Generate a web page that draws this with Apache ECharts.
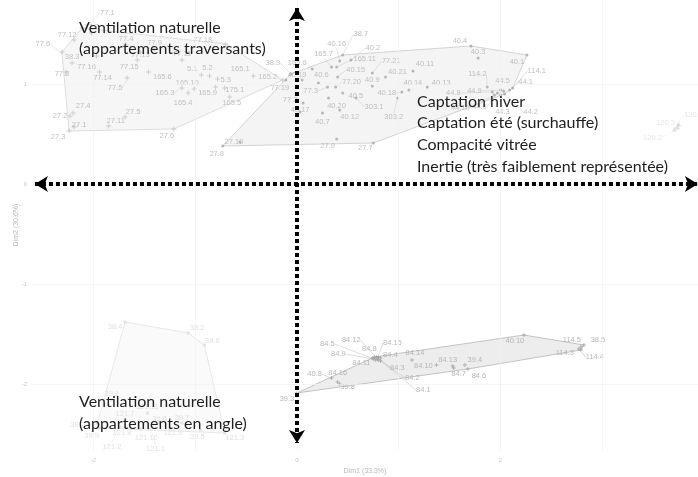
<!DOCTYPE html>
<html><head><meta charset="utf-8">
<script src="https://cdn.jsdelivr.net/npm/echarts@6/dist/echarts.min.js"></script>
<style>html,body{margin:0;padding:0;background:#fff}#c{width:698px;height:477px}</style>
</head><body><div id="c"></div>
<script>
// ---- axes ----
const xTicks = [-2, 0, 2];
const yTicks = [-2, -1, 0, 1];
const xGridLines = [-2, -1, 0, 1, 2, 3];
const yGridLines = [-2, -1, 0, 1];
const xTitle = 'Dim1 (33.3%)';
const yTitle = 'Dim2 (30.6%)';

// ---- individuals: [Dim1, Dim2, label] ----
const clusterTraversants = [
  [-2.11,1.56,'77.1'],[-2.19,1.44,'77.12'],[-2.31,1.32,'77.6'],[-2.02,1.51,'77.7'],
  [-1.68,1.39,'77.4'],[-1.40,1.35,'77.9'],[-0.70,1.40,'77.18'],[-1.13,1.24,'77.11'],
  [-1.54,1.32,'77.13'],[-1.57,1.24,'77.15'],[-2.21,1.21,'38.3'],[-1.97,1.28,'77.16'],
  [-2.27,1.12,'77.8'],[-1.94,1.12,'77.14'],[-1.67,1.06,'77.5'],[-1.46,1.12,'165.6'],
  [-0.94,1.09,'5.1'],[-0.86,1.08,'5.2'],[-0.78,1.05,'5.3'],[-1.01,0.95,'165.10'],
  [-1.13,0.96,'165.3'],[-0.80,0.97,'165.9'],[-0.71,0.96,'175.1'],[-1.07,0.91,'165.4'],
  [-0.66,0.87,'165.5'],[-0.43,1.08,'165.1'],[-0.14,1.04,'165.2'],[-2.20,0.71,'27.4'],
  [-2.23,0.68,'27.2'],[-1.69,0.67,'27.5'],[-1.85,0.58,'27.11'],[-2.19,0.57,'27.1'],
  [-2.24,0.53,'27.3'],[-1.21,0.55,'27.6']
];
const clusterCaptation = [
  [0.45,1.29,'38.7'],[0.42,1.23,'40.16'],[0.53,1.24,'40.2'],[0.34,1.17,'165.7'],
  [0.39,1.17,'165.11'],[0.15,1.15,'165.8'],[0.74,1.11,'77.21'],[1.14,1.13,'40.11'],
  [0.40,1.07,'40.15'],[0.87,1.07,'40.21'],[0.05,1.04,'40.19'],[0.21,1.01,'40.6'],
  [0.38,0.97,'77.20'],[0.74,0.98,'40.9'],[1.10,0.94,'40.14'],[1.28,0.97,'40.13'],
  [-0.11,1.04,'77.19'],[-0.06,1.10,'38.9'],[0.30,0.97,'77.3'],[0.45,0.91,'40.5'],
  [1.03,0.92,'40.18'],[0.06,0.81,'77.2'],[0.31,0.86,'40.20'],[0.58,0.86,'303.1'],
  [0.03,0.72,'40.17'],[0.42,0.74,'40.12'],[0.99,0.86,'303.2'],[0.25,0.71,'40.7'],
  [0.39,0.45,'27.9'],[0.75,0.41,'27.7'],[-0.56,0.42,'27.10'],[-0.73,0.38,'27.8'],
  [1.71,1.38,'40.4'],[1.78,1.26,'40.3'],[2.26,1.29,'40.1'],[2.12,0.96,'114.1'],
  [1.87,0.97,'114.2'],[2.09,0.94,'44.1'],[2.03,0.93,'44.5'],[2.00,0.94,'44.9'],
  [1.92,0.92,'44.8'],[1.97,0.91,'44.6'],[1.94,0.89,'44.10'],[2.00,0.89,'44.3'],
  [2.04,0.90,'44.2']
];
const clusterIsolated = [
  [3.75,0.60,'120.1'],[3.71,0.55,'120.2'],[3.74,0.57,'120.3']
];
const clusterLower = [
  [0.00,-2.09,'39.3'],[0.34,-1.94,'40.8'],[0.40,-1.98,'84.16'],[0.42,-2.00,'39.8'],
  [0.74,-1.74,'84.5'],[0.76,-1.73,'84.12'],[0.78,-1.73,'84.8'],[0.75,-1.75,'84.9'],
  [0.80,-1.73,'84.15'],[0.82,-1.74,'84.4'],[0.77,-1.76,'84.11'],[0.80,-1.76,'84.3'],
  [0.82,-1.77,'84.2'],[0.79,-1.75,'84.1'],[1.13,-1.76,'84.14'],[1.37,-1.81,'84.10'],
  [1.53,-1.82,'84.13'],[1.54,-1.84,'84.7'],[1.65,-1.81,'39.4'],[1.68,-1.85,'84.6'],
  [2.23,-1.51,'40.10'],[2.79,-1.63,'114.5'],[2.82,-1.61,'38.5'],[2.77,-1.65,'114.3'],
  [2.79,-1.66,'114.4']
];
const clusterAngle = [
  [-1.69,-1.38,'38.4'],[-1.07,-1.49,'38.2'],[-0.91,-1.61,'38.8'],[-1.82,-2.16,'39.1'],
  [-1.69,-2.36,'121.7'],[-1.47,-2.29,'121.11'],[-1.96,-2.39,'39.2'],[-1.94,-2.44,'39.9'],
  [-1.69,-2.43,'121.8'],[-1.54,-2.45,'121.10'],[-1.25,-2.44,'121.9'],[-0.95,-2.46,'39.5'],
  [-1.35,-2.39,'39.6'],[-1.13,-2.39,'39.7'],[-0.71,-2.49,'121.3'],[-1.74,-2.43,'121.2'],
  [-1.45,-2.45,'121.1']
];

// ---- annotations ----
const noteTopLeft = ['Ventilation naturelle', '(appartements traversants)'];
const noteRight = ['Captation hiver', 'Captation été (surchauffe)', 'Compacité vitrée', 'Inertie (très faiblement représentée)'];
const noteBottomLeft = ['Ventilation naturelle', '(appartements en angle)'];
const arrowV = [[0, 1.76], [0, -2.59]];
const arrowH = [[-2.575, 0], [3.94, 0]];

// ---- label placement (pixel offsets of the repelled labels, style only) ----
const labelNudge = {
  '77.1':[25,-15],'77.12':[-7,-5],'77.6':[-19,-8],'77.18':[-23,-4],'77.13':[0,3],'77.15':[-8,7],
  '77.16':[-10,11],'77.8':[-4,2],'77.14':[3,6],'77.5':[-12,10],'165.6':[14,5],'5.1':[-9,-6],
  '5.2':[-2,-8],'5.3':[8,1],'165.10':[-7,-6],'165.3':[-17,5],'165.9':[-8,6],'175.1':[10,2],
  '165.4':[-5,10],'165.5':[2,6],'165.1':[-13,-7],'165.2':[-15,-3],'27.4':[10,-7],'27.2':[-10,0],
  '27.5':[8,-5],'27.11':[7,-5],'27.1':[5,-2],'27.3':[-11,6],'27.6':[-7,7],
  '38.7':[18,-21],'40.16':[-3,-17],'40.2':[22,-12],'165.7':[-8,-13],'165.11':[28,-8],'165.8':[-15,-6],
  '77.21':[19,-12],'40.11':[12,-7],'40.15':[18,-7],'40.21':[12,-5],'40.19':[-5,-5],'40.6':[3,-8],
  '77.20':[16,-5],'40.14':[4,-7],'40.13':[14,-4],'77.19':[-6,8],'38.9':[-18,-11],'77.3':[-17,4],
  '40.5':[13,3],'40.18':[-15,1],'77.2':[-13,-3],'40.20':[8,8],'303.1':[18,9],'40.17':[0,-2],
  '40.12':[10,7],'303.2':[-4,19],'40.7':[0,9],'27.9':[-9,7],'27.7':[-8,5],'27.10':[-6,0],'27.8':[-6,8],
  '40.4':[-11,-5],'40.1':[-10,7],'114.1':[24,-17],'114.2':[-10,-13],'44.1':[16,-8],'44.5':[-1,-10],
  '44.9':[-26,1],'44.8':[-39,1],'44.6':[-18,14],'44.10':[-34,13],'44.3':[2,17],'44.2':[26,18],
  '120.1':[15,-9],'120.2':[-22,9],'120.3':[-12,-4],
  '39.3':[-10,6],'40.8':[-17,-4],'84.16':[0,-9],'39.8':[8,3],'84.5':[-45,-14],'84.12':[-23,-17],
  '84.8':[-7,-8],'84.9':[-35,-5],'84.15':[14,-14],'84.4':[10,-3],'84.11':[-14,3],'84.3':[19,8],
  '84.2':[32,17],'84.1':[46,31],'84.14':[3,-7],'84.10':[-13,1],'84.13':[-5,-6],'84.7':[5,6],
  '39.4':[10,-5],'84.6':[11,7],'40.10':[-9,6],'114.5':[-9,-7],'38.5':[14,-5],'114.3':[-14,4],'114.4':[14,7],
  '38.4':[-10,5],'38.2':[9,-5],'38.8':[8,-4],'39.2':[-20,2],'39.9':[-8,8],'121.8':[-3,6],
  '121.10':[6,9],'121.9':[3,5],'39.5':[-3,7],'39.6':[0,-4],'39.7':[0,-5],'121.3':[10,5],
  '121.2':[-8,20],'121.1':[6,20]
};

function convexHull(pts) {
  const p = pts.map(a => [a[0], a[1]]).sort((a, b) => a[0] - b[0] || a[1] - b[1]);
  const cross = (o, a, b) => (a[0]-o[0])*(b[1]-o[1]) - (a[1]-o[1])*(b[0]-o[0]);
  const lower = [], upper = [];
  for (const q of p) { while (lower.length >= 2 && cross(lower[lower.length-2], lower[lower.length-1], q) <= 0) lower.pop(); lower.push(q); }
  for (let i = p.length - 1; i >= 0; i--) { const q = p[i]; while (upper.length >= 2 && cross(upper[upper.length-2], upper[upper.length-1], q) <= 0) upper.pop(); upper.push(q); }
  upper.pop(); lower.pop();
  return lower.concat(upper);
}

function hullSeries(pts, fill, stroke) {
  const hull = convexHull(pts);
  return {
    type: 'custom', coordinateSystem: 'cartesian2d', silent: true, z: 1,
    data: [hull[0]],
    renderItem: (params, api) => ({
      type: 'polygon',
      shape: { points: hull.map(h => api.coord(h)) },
      style: { fill: fill, stroke: stroke, lineWidth: 0.8 }
    })
  };
}

const plusPath = 'path://M4,0H6V4H10V6H6V10H4V6H0V4H4Z';
function pointSeries(pts, symbol, size, color, labelColor, lineColor) {
  return {
    type: 'scatter', symbol: symbol, symbolSize: size, z: 2, silent: true,
    data: pts.map(p => {
      const n = labelNudge[p[2]] || [0, -6];
      const far = Math.hypot(n[0], n[1]) > 15;
      return { value: [p[0], p[1]], name: p[2], labelLine: { show: far } };
    }),
    itemStyle: { color: color },
    label: { show: true, formatter: '{b}', position: 'inside',
      fontSize: 7.5, color: labelColor, fontFamily: 'Liberation Sans, Arial, sans-serif' },
    labelLine: { show: false, lineStyle: { color: lineColor, width: 0.6 } },
    labelLayout: (params) => {
      const n = labelNudge[pts[params.dataIndex][2]] || [0, -6];
      return { dx: n[0], dy: n[1], hideOverlap: false };
    }
  };
}

const textFont = 'Lato, "Open Sans", sans-serif';
function noteGraphics(lines, x, y0, step) {
  return lines.map((t, i) => ({
    type: 'text', left: x, top: y0 + i * step, z: 100,
    style: { text: t, fill: '#1e1e1e', font: '16px ' + textFont }
  }));
}

const chart = echarts.init(document.getElementById('c'), null, { renderer: 'canvas' });
const arrowStyle = { color: '#000', width: 4, type: [4, 3], cap: 'butt' };
chart.setOption({
  animation: false,
  grid: { left: 32, right: 0, top: 0, bottom: 27, outerBoundsMode: 'none', containLabel: false },
  xAxis: {
    type: 'value', min: -2.604, max: 3.941,
    axisLine: { show: false }, splitLine: { show: false },
    axisTick: { show: true, customValues: xTicks, length: 3, lineStyle: { color: '#d5d5d5' } },
    axisLabel: { customValues: xTicks, fontSize: 6, color: '#c8c8c8', margin: 7 },
    name: xTitle, nameLocation: 'middle', nameGap: 17,
    nameTextStyle: { fontSize: 7, color: '#b8b8b8' }
  },
  yAxis: {
    type: 'value', min: -2.66, max: 1.84,
    axisLine: { show: false }, splitLine: { show: false },
    axisTick: { show: true, customValues: yTicks, length: 3, lineStyle: { color: '#d5d5d5' } },
    axisLabel: { customValues: yTicks, fontSize: 6, color: '#c8c8c8', margin: 5 },
    name: yTitle, nameLocation: 'middle', nameGap: 12, nameMoveOverlap: false,
    nameTextStyle: { fontSize: 7, color: '#b8b8b8' }
  },
  series: [
    { type: 'line', data: [], silent: true, z: 0,
      markLine: { silent: true, symbol: 'none', label: { show: false },
        lineStyle: { color: '#f1f1f1', width: 0.7, type: 'solid' },
        data: xGridLines.map(v => ({ xAxis: v })).concat(yGridLines.map(v => ({ yAxis: v }))) } },
    hullSeries(clusterTraversants, 'rgba(0,0,0,0.035)', '#d6d6d6'),
    hullSeries(clusterCaptation, 'rgba(0,0,0,0.045)', '#c9c9c9'),
    hullSeries(clusterIsolated, 'rgba(0,0,0,0.02)', '#ececec'),
    hullSeries(clusterLower, 'rgba(0,0,0,0.07)', '#b5b5b5'),
    hullSeries(clusterAngle, 'rgba(0,0,0,0.02)', '#e2e2e2'),
    pointSeries(clusterTraversants, plusPath, 5, '#c2c2c2', '#b2b2b2', '#d8d8d8'),
    pointSeries(clusterCaptation, 'circle', 3, '#a8a8a8', '#b0b0b0', '#d0d0d0'),
    pointSeries(clusterIsolated, 'triangle', 5, '#d8d8d8', '#e0e0e0', '#eeeeee'),
    pointSeries(clusterLower, plusPath, 4, '#9a9a9a', '#a6a6a6', '#c8c8c8'),
    pointSeries(clusterAngle, 'rect', 3, '#dddddd', '#d8d8d8', '#eaeaea'),
    { type: 'line', data: [], silent: true, z: 50,
      markLine: { silent: true, symbol: ['arrow', 'arrow'], symbolSize: [12, 13],
        label: { show: false }, lineStyle: arrowStyle, emphasis: { disabled: true },
        data: [
          [{ coord: arrowV[0] }, { coord: arrowV[1] }],
          [{ coord: arrowH[0] }, { coord: arrowH[1] }]
        ] } }
  ],
  graphic: [].concat(
    noteGraphics(noteTopLeft, 79, 19.5, 21.6),
    noteGraphics(noteRight, 417, 93.5, 21.7),
    noteGraphics(noteBottomLeft, 79, 394, 22)
  )
});
</script>
</body></html>
